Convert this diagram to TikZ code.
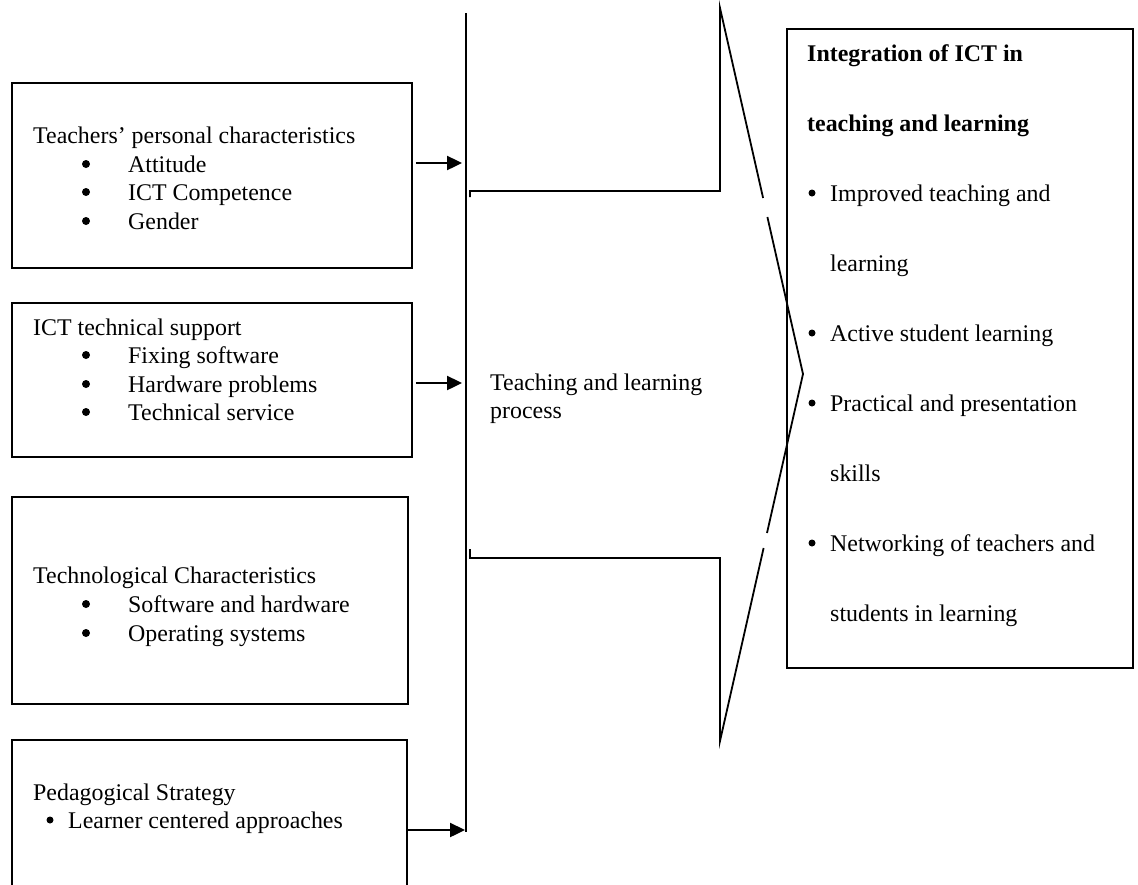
\documentclass[tikz,border=0pt]{standalone}
\usepackage{fontspec}
\setmainfont{Liberation Serif}
\usetikzlibrary{arrows.meta}
\begin{document}
\begin{tikzpicture}[x=1pt,y=-1pt,
  box/.style={draw,line width=1.8pt,anchor=north west,inner sep=0pt},
  lbl/.style={anchor=base west,inner sep=0pt,font=\fontsize{23.9}{28}\selectfont},
  bul/.style={circle,fill,inner sep=0pt,minimum size=8pt,yshift=8pt},
  sbul/.style={circle,fill,inner sep=0pt,minimum size=7pt,yshift=8pt},
  arr/.style={line width=2.4pt,-{Triangle[length=15pt,width=14pt]}},
  ln/.style={line width=1.8pt}]
\useasboundingbox (0,0) rectangle (1138,884);

% left boxes
\node[box,minimum width=400pt,minimum height=185pt] (b1) at (11,82) {};
\node[box,minimum width=400pt,minimum height=154pt] (b2) at (11,302) {};
\node[box,minimum width=396pt,minimum height=207pt] (b3) at (11,496) {};
\node[box,minimum width=395pt,minimum height=170pt] (b4) at (11,739) {};
% right box
\node[box,minimum width=346pt,minimum height=639pt] (rb) at (786,28) {};

% box 1 text
\node[lbl] (t1) at (33,143) {Teachers’ personal characteristics};
\node[bul] (t1b1) at (86,172) {}; \node[lbl] (t1i1) at (128,172) {Attitude};
\node[bul] (t1b2) at (86,200) {}; \node[lbl] (t1i2) at (128,200) {ICT Competence};
\node[bul] (t1b3) at (86,229) {}; \node[lbl] (t1i3) at (128,229) {Gender};
% box 2 text
\node[lbl] (t2) at (33,335) {ICT technical support};
\node[bul] (t2b1) at (86,363) {}; \node[lbl] (t2i1) at (128,363) {Fixing software};
\node[bul] (t2b2) at (86,392) {}; \node[lbl] (t2i2) at (128,392) {Hardware problems};
\node[bul] (t2b3) at (86,420) {}; \node[lbl] (t2i3) at (128,420) {Technical service};
% box 3 text
\node[lbl] (t3) at (33,583) {Technological Characteristics};
\node[bul] (t3b1) at (86,612) {}; \node[lbl] (t3i1) at (128,612) {Software and hardware};
\node[bul] (t3b2) at (86,641) {}; \node[lbl] (t3i2) at (128,641) {Operating systems};
% box 4 text
\node[lbl] (t4) at (33,800) {Pedagogical Strategy};
\node[sbul] (t4b1) at (50,828) {}; \node[lbl] (t4i1) at (68,828) {Learner centered approaches};

% right box text
\node[lbl,font=\fontsize{23.9}{28}\selectfont\bfseries] (r1) at (807,61) {Integration of ICT in};
\node[lbl,font=\fontsize{23.9}{28}\selectfont\bfseries] (r2) at (807,131) {teaching and learning};
\node[sbul] (rb1) at (812,201) {}; \node[lbl] (r3) at (830,201) {Improved teaching and};
\node[lbl] (r4) at (830,271) {learning};
\node[sbul] (rb2) at (812,341) {}; \node[lbl] (r5) at (830,341) {Active student learning};
\node[sbul] (rb3) at (812,411) {}; \node[lbl] (r6) at (830,411) {Practical and presentation};
\node[lbl] (r7) at (830,481) {skills};
\node[sbul] (rb4) at (812,551) {}; \node[lbl] (r8) at (830,551) {Networking of teachers and};
\node[lbl] (r9) at (830,621) {students in learning};

% centre text
\node[lbl] (c1) at (490,390) {Teaching and learning};
\node[lbl] (c2) at (490,418) {process};

% central line
\coordinate (ctop) at (466,13);
\coordinate (cbot) at (466,832);
\draw[ln] (ctop) -- (cbot);

% arrows
\coordinate (a1) at (462,163);
\coordinate (a2) at (462,383);
\coordinate (a4) at (465,830);
\draw[arr] ([xshift=3pt]b1.east |- a1) -- (a1);
\draw[arr] ([xshift=3pt]b2.east |- a2) -- (a2);
\draw[arr] (b4.east |- a4) -- (a4);

% big arrow shape
\coordinate (u0) at (470,197);
\coordinate (u1) at (470,191);
\coordinate (u2) at (720,191);
\coordinate (u3) at (720,8);
\coordinate (g1) at (763.1,198);
\coordinate (g2) at (767.4,217);
\coordinate (tip) at (803,374);
\coordinate (g3) at (767.0,533);
\coordinate (g4) at (763.6,548);
\coordinate (l3) at (720,741);
\coordinate (l2) at (720,558);
\coordinate (l1) at (470,558);
\coordinate (l0) at (470,549);
\draw[ln] (u0) -- (u1) -- (u2) -- (u3) -- (g1);
\draw[ln] (g2) -- (tip) -- (g3);
\draw[ln] (g4) -- (l3) -- (l2) -- (l1) -- (l0);
\end{tikzpicture}
\end{document}
